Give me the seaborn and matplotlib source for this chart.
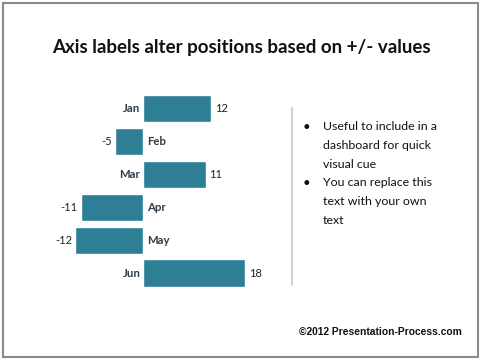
import matplotlib
matplotlib.use("Agg")
import matplotlib.pyplot as plt
import seaborn as sns
import pandas as pd
from matplotlib.patches import Rectangle
from matplotlib.lines import Line2D

months = ["Jan", "Feb", "Mar", "Apr", "May", "Jun"]
values = [12, -5, 11, -11, -12, 18]
title = "Axis labels alter positions based on +/- values"
bullets = [["Useful to include in a", "dashboard for quick", "visual cue"],
           ["You can replace this", "text with your own", "text"]]
footer = "\u00a92012 Presentation-Process.com"

sns.set_theme(style="white")
plt.rcParams['font.family'] = ['Lato', 'DejaVu Sans']

df = pd.DataFrame({"month": months, "value": values})

fig = plt.figure(figsize=(4.8, 3.61), dpi=100)
fig.patch.set_facecolor("white")

ax = fig.add_axes([0.121, 0.198, 0.414, 0.5465])
sns.barplot(data=df, x="value", y="month", orient="h", color="#2E7F95",
            saturation=1, width=0.83, ax=ax)
ax.set_xlim(-15, 20)
ax.set_ylim(5.5, -0.5)
ax.axis("off")

for i, v in enumerate(values):
    if v >= 0:
        ax.text(-0.5, i, months[i], ha="right", va="center", fontsize=8.2,
                fontweight="bold", color="#2D3B4C")
        ax.text(v + 0.6, i, str(v), ha="left", va="center", fontsize=8,
                color="#222222", clip_on=False)
    else:
        ax.text(0.7, i, months[i], ha="left", va="center", fontsize=8.2,
                fontweight="bold", color="#2D3B4C")
        ax.text(v - 0.55, i, str(v), ha="right", va="center", fontsize=8,
                color="#222222", clip_on=False)

# Title
fig.text(241 / 480, 1 - 47 / 361, title, ha="center", va="center", fontsize=13.5,
         fontweight="bold", color="#111111")

# Divider line
fig.add_artist(Line2D([291.7 / 480, 291.7 / 480], [1 - 108 / 361, 1 - 285 / 361],
                      color="#D0D0D0", lw=1.5))

# Bullets
y0 = 126.7
lh = 18.7
k = 0
for group in bullets:
    fig.text(306.7 / 480, 1 - (y0 + k * lh) / 361, "\u2022", ha="center",
             va="center", fontsize=9.5, color="#111111")
    for line in group:
        fig.text(322.7 / 480, 1 - (y0 + k * lh) / 361, line, ha="left",
                 va="center", fontsize=8.9, color="#111111")
        k += 1

# Footer
fig.text(462 / 480, 1 - 332 / 361, footer, ha="right", va="center",
         fontsize=7.4, fontweight="bold",
         family=['Liberation Sans', 'DejaVu Sans'], color="#111111")

# Border
fig.add_artist(Rectangle((2.5 / 480, 1 - 357 / 361), 475.5 / 480, 354.5 / 361,
                         fill=False, edgecolor="#8A8A8A", lw=1.5))

fig.savefig("out.png", dpi=100)
